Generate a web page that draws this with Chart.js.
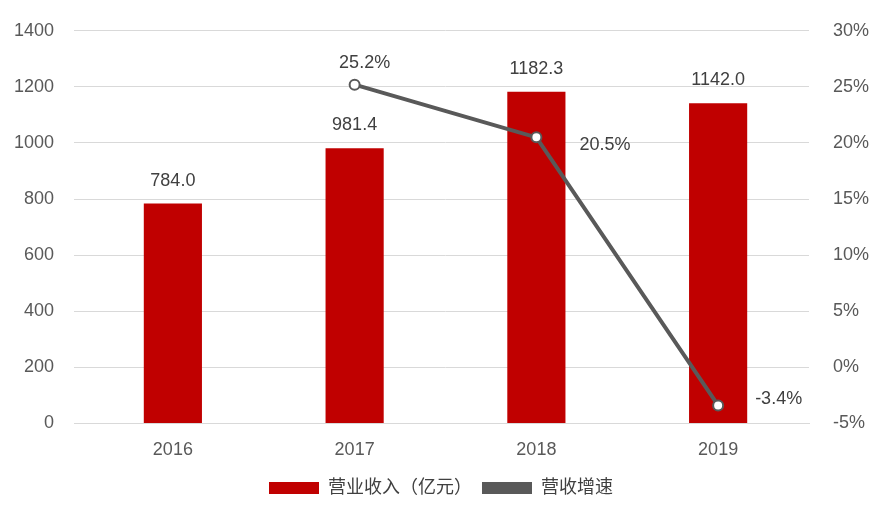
<!DOCTYPE html>
<html><head><meta charset="utf-8">
<script src="https://cdn.jsdelivr.net/npm/chart.js@4"></script>
<style>html,body{margin:0;background:#fff}#wrap{width:882px;height:517px}</style>
</head><body><div id="wrap"><canvas id="c" width="882" height="517"></canvas></div>
<script>
const years = ['2016', '2017', '2018', '2019'];
const revenue = [784.0, 981.4, 1182.3, 1142.0];
const growth = [null, 25.2, 20.5, -3.4];
const FONT = 'Liberation Sans, Arial, "Noto Sans CJK SC", sans-serif';

// value labels for bars and line points
const labelPlugin = {
    id: 'labels',
    afterDatasetsDraw(chart) {
        const ctx = chart.ctx;
        ctx.save();
        ctx.font = '18px ' + FONT;
        ctx.fillStyle = '#404040';
        chart.getDatasetMeta(0).data.forEach((bar, i) => {
            ctx.textAlign = 'center';
            ctx.textBaseline = 'bottom';
            ctx.fillText(revenue[i].toFixed(1), bar.x, bar.y - 14);
        });
        chart.getDatasetMeta(1).data.forEach((pt, i) => {
            if (growth[i] === null) return;
            const t = growth[i].toFixed(1) + '%';
            ctx.textBaseline = 'middle';
            if (i === 1) {
                ctx.textAlign = 'center';
                ctx.fillText(t, pt.x + 10, pt.y - 22);
            } else if (i === 2) {
                ctx.textAlign = 'left';
                ctx.fillText(t, pt.x + 43, pt.y + 8);
            } else {
                ctx.textAlign = 'left';
                ctx.fillText(t, pt.x + 37, pt.y - 6);
            }
        });
        ctx.restore();
    }
};

new Chart(document.getElementById('c'), {
    data: {
        labels: years,
        datasets: [
            {
                type: 'bar', label: '营业收入（亿元）', data: revenue, yAxisID: 'y',
                backgroundColor: '#c00000', barPercentage: 0.64, categoryPercentage: 0.5, order: 2
            },
            {
                type: 'line', label: '营收增速', data: growth, yAxisID: 'y1',
                borderColor: '#595959', borderWidth: 4, pointRadius: 5, pointBorderWidth: 2,
                pointBackgroundColor: '#fff', pointBorderColor: '#595959', order: 1
            }
        ]
    },
    options: {
        responsive: false,
        animation: false,
        layout: { padding: { top: 26, bottom: 10 } },
        plugins: {
            tooltip: { enabled: false },
            legend: {
                position: 'bottom',
                labels: {
                    font: { size: 18, family: FONT }, color: '#404040', boxWidth: 50, boxHeight: 12,
                    generateLabels(chart) {
                        return chart.data.datasets.map((d, i) => ({
                            text: d.label, fillStyle: i === 0 ? '#c00000' : '#595959',
                            strokeStyle: i === 0 ? '#c00000' : '#595959', lineWidth: 0,
                            datasetIndex: i, fontColor: '#404040'
                        }));
                    }
                }
            }
        },
        scales: {
            x: {
                grid: { display: false }, border: { color: '#d9d9d9' },
                ticks: { font: { size: 18, family: FONT }, color: '#595959', padding: 8 }
            },
            y: {
                position: 'left', min: 0, max: 1400,
                ticks: { stepSize: 200, callback: v => String(v), font: { size: 18, family: FONT }, color: '#595959', padding: 20 },
                grid: { color: '#d9d9d9' }, border: { display: false },
                afterFit(s) { s.width = 82; }
            },
            y1: {
                position: 'right', min: -5, max: 30,
                ticks: { stepSize: 5, callback: v => v + '%', font: { size: 18, family: FONT }, color: '#595959', padding: 16 },
                grid: { display: false }, border: { display: false },
                afterFit(s) { s.width = 73; }
            }
        }
    },
    plugins: [labelPlugin]
});
</script></body></html>
